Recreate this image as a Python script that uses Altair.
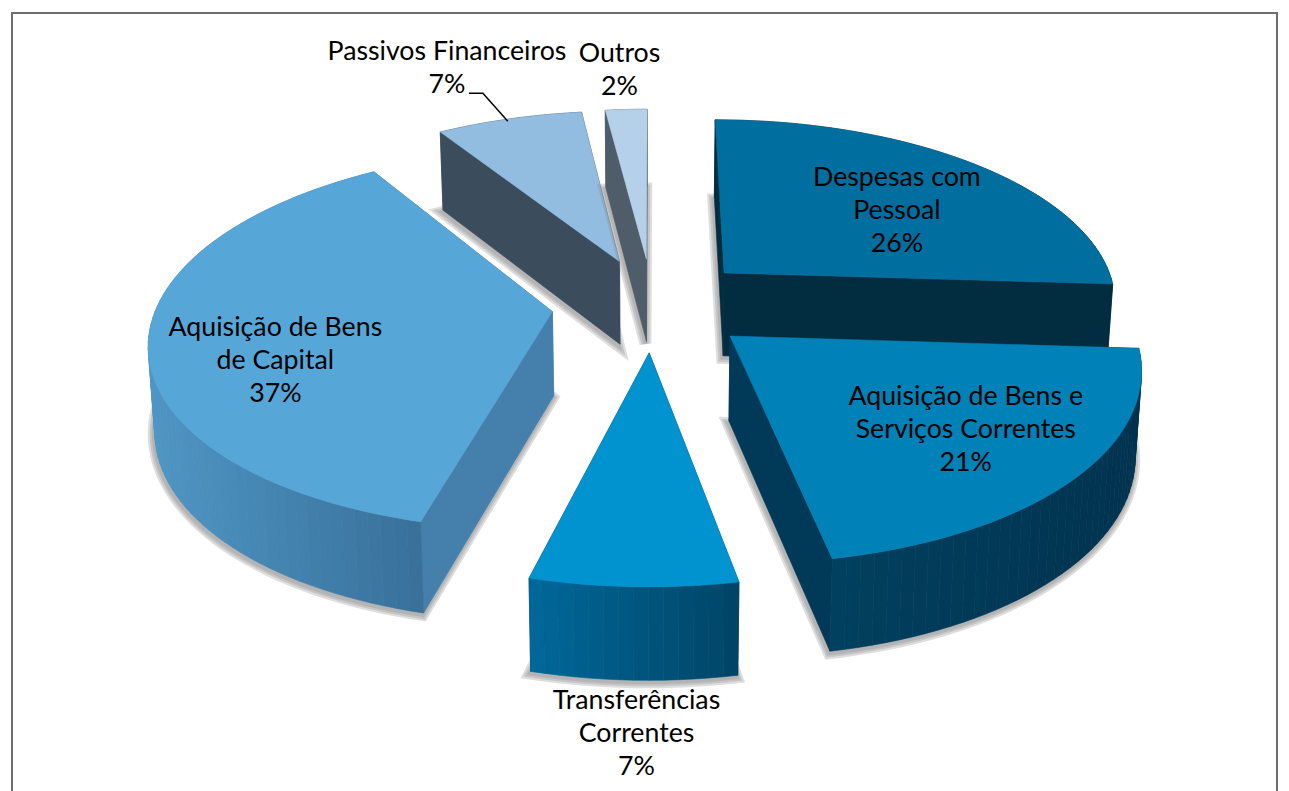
import math
import altair as alt

# --- chart values -------------------------------------------------------
NAMES = ["Despesas com\nPessoal", "Aquisição de Bens e\nServiços Correntes",
         "Transferências\nCorrentes", "Aquisição de Bens\nde Capital",
         "Passivos Financeiros", "Outros"]
VALUES = [26, 21, 7, 37, 7, 2]

# --- styles -------------------------------------------------------------
TOP = ["#006f9f", "#0082b8", "#0093cf", "#57a6d8", "#92bde0", "#b5d1ea"]
CUT = ["#022c3f", "#003a58", "#004466", "#4580ad", "#3b4d5c", "#4f5c69"]
WALL_L = ["#022c3f", "#01405f", "#00689a", "#4f96c5", "#3b4d5c", "#4f5c69"]
WALL_R = ["#022c3f", "#01334f", "#004466", "#38709a", "#3b4d5c", "#4f5c69"]
DRAW_ORDER = [4, 5, 0, 3, 1, 2]

# --- layout -------------------------------------------------------------
LABEL_X = [898, 967, 637, 275, 447, 620]
LABEL_Y = [177, 396, 700, 327, 51, 53]
LEADER_X = [469, 483, 508]
LEADER_Y = [92, 92, 120]
PAGE = 8
CX, CY, RX, RY, DEPTH = 653, 303, 396, 184, 84
PERSP, TAPER, EXPLODE = 0.146, 0.013, 0.255
SHIFT_X, SHIFT_Y, SCALE_Y = 2.0, 0.6, 0.998


def place(x, y):
    """Picture position to plot position."""
    return [x - SHIFT_X - PAGE, (y - SHIFT_Y) / SCALE_Y - PAGE]


def project(X, Y, z):
    s = 1 / (1 - PERSP * Y)
    t = 1 - TAPER * z
    d = DEPTH * (1 + 0.7 * (s - 1))
    return place(CX + RX * X * s * t, CY + RY * Y * s * t + d * z)


def hex_mix(a, b, f):
    ca = [int(a[i:i + 2], 16) for i in (1, 3, 5)]
    cb = [int(b[i:i + 2], 16) for i in (1, 3, 5)]
    return "#%02x%02x%02x" % tuple(round(p + (q - p) * f) for p, q in zip(ca, cb))


def feature(points, fill, stroke, width, opacity=1.0):
    ring = points + [points[0]]
    return {"type": "Feature", "properties": {},
            "geometry": {"type": "Polygon", "coordinates": [ring]},
            "fill": fill, "stroke": stroke, "sw": width, "op": opacity}


features = []
total = sum(VALUES)
starts = [sum(VALUES[:i]) / total * 2 * math.pi for i in range(len(VALUES))]
for i in DRAW_ORDER:
    a0 = starts[i]
    a1 = a0 + VALUES[i] / total * 2 * math.pi
    mid = (a0 + a1) / 2
    ax, ay = EXPLODE * math.sin(mid), -EXPLODE * math.cos(mid)
    n = max(4, VALUES[i] * 2)
    rim = []
    for j in range(n + 1):
        a = a0 + (a1 - a0) * j / n
        rim.append((ax + math.sin(a), ay - math.cos(a)))
    outline = [(ax, ay)] + rim

    # drop shadow: the bottom face, slightly offset, in soft strokes
    bottom = [project(x, y, 1) for x, y in outline]
    shifted = [[p[0] - 1, p[1] + 2] for p in bottom]
    for w in (12, 8, 4):
        features.append(feature(shifted, "#808080", "#808080", w, 0.25))

    # walls, painted from back to front
    front = [project(x, y, 0)[0] for x, y in rim if y > 0] or [project(x, y, 0)[0] for x, y in rim]
    x0, x1 = min(front), max(front)
    walls = []
    for j in range(n):
        (p, q) = rim[j], rim[j + 1]
        f = (project(*p, 0)[0] + project(*q, 0)[0]) / 2
        f = min(1, max(0, (f - x0) / max(1, x1 - x0)))
        c = hex_mix(WALL_L[i], WALL_R[i], f)
        walls.append(((p[1] + q[1]) / 2, p, q, c))
    walls.append(((ay + rim[0][1]) / 2, (ax, ay), rim[0], CUT[i]))
    walls.append(((ay + rim[-1][1]) / 2, (ax, ay), rim[-1], CUT[i]))
    for _, p, q, c in sorted(walls, key=lambda w: w[0]):
        quad = [project(*p, 0), project(*q, 0), project(*q, 1), project(*p, 1)]
        features.append(feature(quad, c, c, 0.6))

    # top face
    features.append(feature([project(x, y, 0) for x, y in outline], TOP[i], TOP[i], 0.5))

W, H = 1270, 783

frame = alt.Chart(alt.Data(values=[
    {"x": 1, "y": H, "k": 0}, {"x": 1, "y": 3, "k": 1},
    {"x": W - 1, "y": 3, "k": 2}, {"x": W - 1, "y": H, "k": 3}])).mark_line(
    color="#6e6e6e", strokeWidth=2).encode(
    x=alt.X("x:Q", scale=None), y=alt.Y("y:Q", scale=None), order="k:Q")

shapes = alt.Chart(alt.Data(values=features)).mark_geoshape().encode(
    fill=alt.Fill("fill:N", scale=None),
    stroke=alt.Stroke("stroke:N", scale=None),
    strokeWidth=alt.StrokeWidth("sw:Q", scale=None),
    opacity=alt.Opacity("op:Q", scale=None),
).project(type="identity", scale=1, translate=[0, 0])

leader_rows = []
for k, (x, y) in enumerate(zip(LEADER_X, LEADER_Y)):
    px, py = place(x, y)
    leader_rows.append({"x": px, "y": py, "k": k})

leader = alt.Chart(alt.Data(values=leader_rows)).mark_line(
    color="#000000", strokeWidth=1.5).encode(
    x=alt.X("x:Q", scale=None), y=alt.Y("y:Q", scale=None), order="k:Q")

label_rows = []
for n, v, x, y in zip(NAMES, VALUES, LABEL_X, LABEL_Y):
    px, py = place(x, y)
    label_rows.append({"t": f"{n}\n{v}%", "x": px, "y": py})

labels = alt.Chart(alt.Data(values=label_rows)).mark_text(
    font="Lato", fontSize=26.8, lineBreak="\n", lineHeight=32.8,
    align="center", baseline="middle", color="#000000").encode(
    x=alt.X("x:Q", scale=None), y=alt.Y("y:Q", scale=None), text="t:N")

chart = alt.layer(frame, shapes, leader, labels).properties(
    width=W, height=H, padding=0, background="#ffffff"
).configure_view(stroke=None)

chart.save("out.html", embed_options={"renderer": "svg", "actions": False})
